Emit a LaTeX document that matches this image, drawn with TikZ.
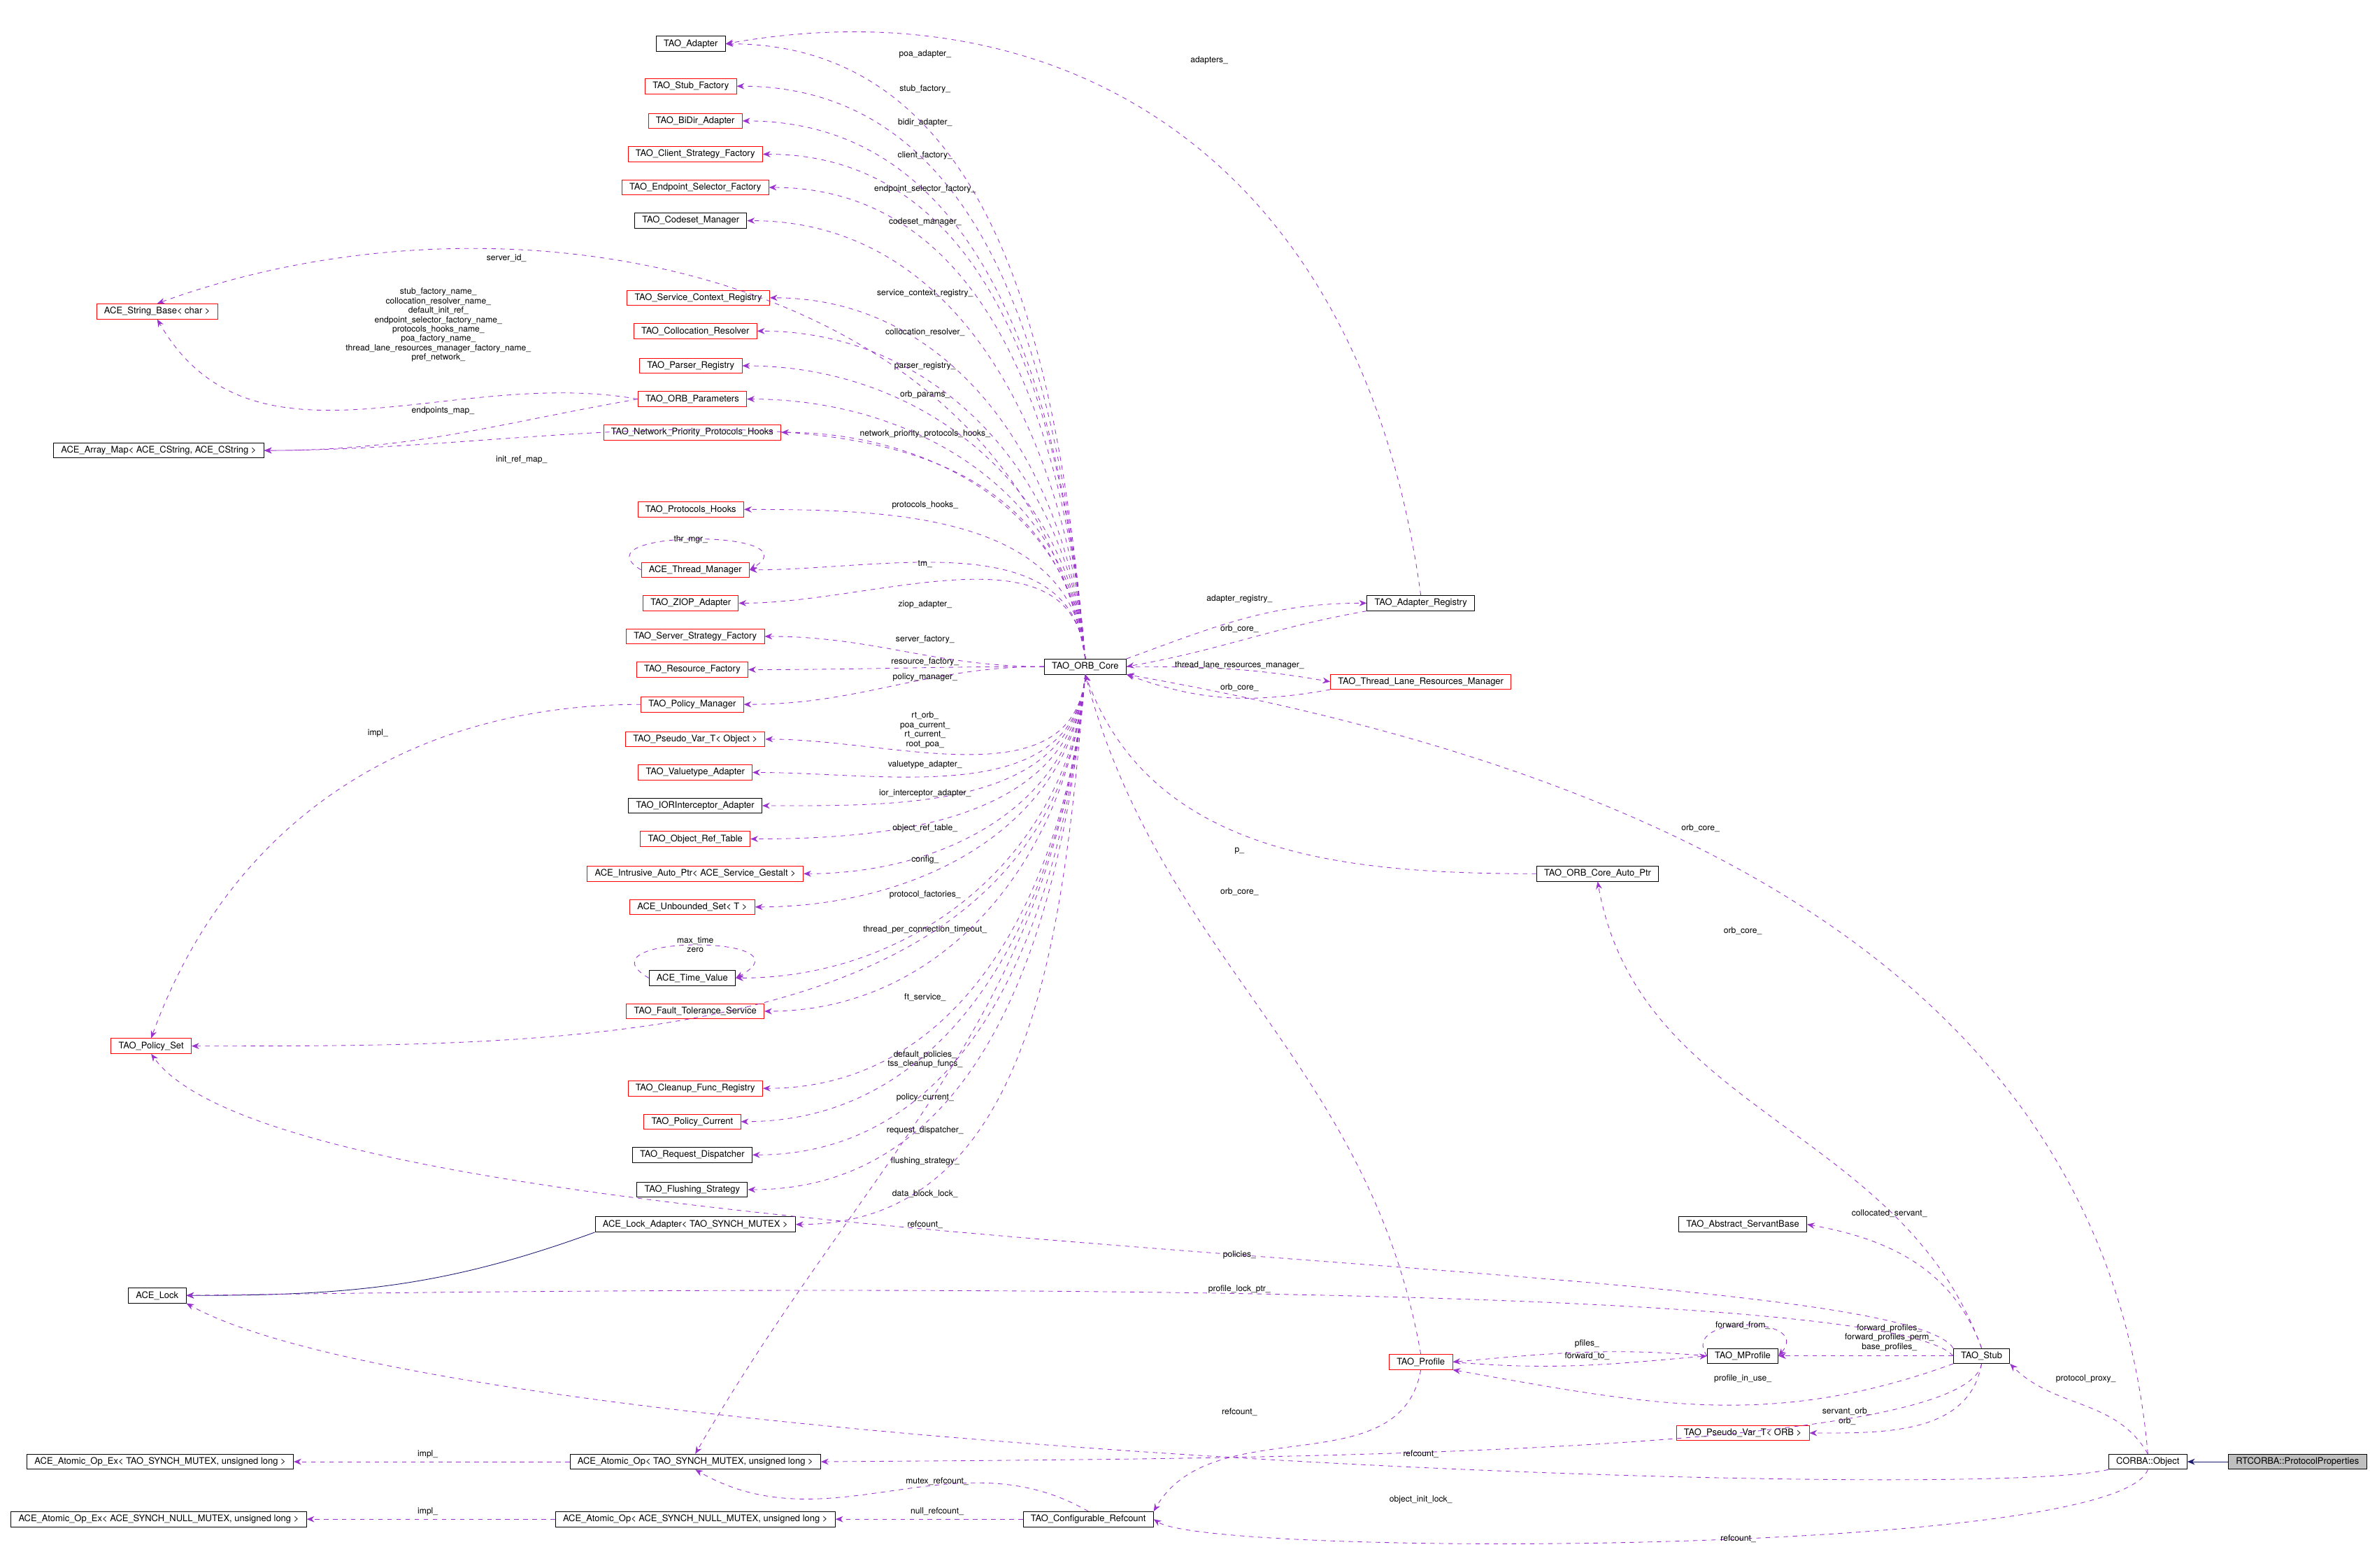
\documentclass[tikz,border=0pt]{standalone}
\usepackage{fontspec}
\setmainfont{TeX Gyre Heros}
\usetikzlibrary{arrows.meta}
\definecolor{edgepurple}{HTML}{9A32CD}
\definecolor{inhnavy}{HTML}{191970}
\catcode`\_=12
\tikzset{
  cls/.style={draw=black, fill=white, font=\fontsize{6}{7}\selectfont, inner xsep=5pt, inner ysep=1pt, minimum height=10pt},
  clsred/.style={cls, draw=red},
  clsgray/.style={cls, fill=black!25},
  rel/.style={draw=edgepurple, dashed, -{Stealth[length=5pt,width=4pt]}},
  inh/.style={draw=inhnavy, -{Stealth[length=5pt,width=4pt]}},
  lbl/.style={font=\fontsize{5.6}{6.2}\selectfont, inner sep=0.5pt, align=center}
}
\begin{document}
\begin{tikzpicture}[x=1pt, y=-1pt]
  \useasboundingbox (0,0) rectangle (1568,1037);
  % left column
  \node[cls] (adapter) at (457,29) {TAO_Adapter};
  \node[clsred] (stubfac) at (457,57) {TAO_Stub_Factory};
  \node[clsred] (bidir) at (460,80) {TAO_BiDir_Adapter};
  \node[clsred] (clientfac) at (460,102) {TAO_Client_Strategy_Factory};
  \node[clsred] (endpointfac) at (460,124) {TAO_Endpoint_Selector_Factory};
  \node[cls] (codeset) at (457,146) {TAO_Codeset_Manager};
  \node[clsred] (svcctx) at (462,197) {TAO_Service_Context_Registry};
  \node[clsred] (colloc) at (460,219) {TAO_Collocation_Resolver};
  \node[clsred] (parser) at (457,242) {TAO_Parser_Registry};
  \node[clsred] (orbparams) at (458,264) {TAO_ORB_Parameters};
  \node[clsred] (netprio) at (458,286) {TAO_Network_Priority_Protocols_Hooks};
  \node[clsred] (protohooks) at (457,337) {TAO_Protocols_Hooks};
  \node[clsred] (thrmgr) at (460,377) {ACE_Thread_Manager};
  \node[clsred] (ziop) at (457,399) {TAO_ZIOP_Adapter};
  \node[clsred] (srvfac) at (460,421) {TAO_Server_Strategy_Factory};
  \node[clsred] (resfac) at (458,443) {TAO_Resource_Factory};
  \node[clsred] (polmgr) at (458,466) {TAO_Policy_Manager};
  \node[clsred] (pvobject) at (460,489) {TAO_Pseudo_Var_T< Object >};
  \node[clsred] (valuetype) at (460,511) {TAO_Valuetype_Adapter};
  \node[cls] (iorint) at (460,533) {TAO_IORInterceptor_Adapter};
  \node[clsred] (objref) at (460,555) {TAO_Object_Ref_Table};
  \node[clsred] (gestalt) at (460,578) {ACE_Intrusive_Auto_Ptr< ACE_Service_Gestalt >};
  \node[clsred] (unbset) at (458,600) {ACE_Unbounded_Set< T >};
  \node[cls] (timeval) at (458,647) {ACE_Time_Value};
  \node[clsred] (ftsvc) at (460,669) {TAO_Fault_Tolerance_Service};
  \node[clsred] (cleanup) at (460,720) {TAO_Cleanup_Func_Registry};
  \node[clsred] (polcur) at (458,742) {TAO_Policy_Current};
  \node[cls] (reqdisp) at (458,764) {TAO_Request_Dispatcher};
  \node[cls] (flush) at (458,787) {TAO_Flushing_Strategy};
  \node[cls] (lockadapter) at (460,810) {ACE_Lock_Adapter< TAO_SYNCH_MUTEX >};
  % far left
  \node[clsred] (strbase) at (104,206) {ACE_String_Base< char >};
  \node[cls] (arraymap) at (105,298) {ACE_Array_Map< ACE_CString, ACE_CString >};
  \node[clsred] (polset) at (100,692) {TAO_Policy_Set};
  \node[cls] (acelock) at (104,857) {ACE_Lock};
  \node[cls] (opexmutex) at (106,967) {ACE_Atomic_Op_Ex< TAO_SYNCH_MUTEX, unsigned long >};
  \node[cls] (opexnull) at (105,1005) {ACE_Atomic_Op_Ex< ACE_SYNCH_NULL_MUTEX, unsigned long >};
  \node[cls] (opmutex) at (460,967) {ACE_Atomic_Op< TAO_SYNCH_MUTEX, unsigned long >};
  \node[cls] (opnull) at (460,1005) {ACE_Atomic_Op< ACE_SYNCH_NULL_MUTEX, unsigned long >};
  \node[cls] (confref) at (720,1005) {TAO_Configurable_Refcount};
  % middle and right
  \node[cls] (core) at (718,441) {TAO_ORB_Core};
  \node[cls] (adreg) at (940,399) {TAO_Adapter_Registry};
  \node[clsred] (lanemgr) at (940,451) {TAO_Thread_Lane_Resources_Manager};
  \node[cls] (autoptr) at (1057,578) {TAO_ORB_Core_Auto_Ptr};
  \node[clsred] (profile) at (940,901) {TAO_Profile};
  \node[cls] (mprofile) at (1153,897) {TAO_MProfile};
  \node[cls] (servant) at (1153,810) {TAO_Abstract_ServantBase};
  \node[clsred] (pvorb) at (1153,948) {TAO_Pseudo_Var_T< ORB >};
  \node[cls] (stub) at (1311,897) {TAO_Stub};
  \node[cls] (object) at (1421,967) {CORBA::Object};
  \node[clsgray] (protoprops) at (1520,967) {RTCORBA::ProtocolProperties};

  % ORB core upwards
  \foreach \n/\l/\ly in {adapter/poa_adapter_/36, stubfac/stub_factory_/59, bidir/bidir_adapter_/81,
      clientfac/client_factory_/103, endpointfac/endpoint_selector_factory_/125, codeset/codeset_manager_/147,
      svcctx/service_context_registry_/194, colloc/collocation_resolver_/220, parser/parser_registry_/242,
      orbparams/orb_params_/261, netprio/network_priority_protocols_hooks_/287, protohooks/protocols_hooks_/334,
      thrmgr/tm_/373, ziop/ziop_adapter_/400} {
    \draw[rel] (core.north) to[out=95,in=0] (\n.east);
    \node[lbl] (l-\n) at (612,\ly) {\l};
  }
  \foreach \n/\l/\ly in {srvfac/server_factory_/423, resfac/resource_factory_/438, polmgr/policy_manager_/448} {
    \draw[rel] (core.west) to[out=180,in=0] (\n.east);
    \node[lbl] (l-\n) at (612,\ly) {\l};
  }
  % ORB core downwards
  \foreach \n/\l/\ly in {valuetype/valuetype_adapter_/506, iorint/ior_interceptor_adapter_/525,
      objref/object_ref_table_/548, gestalt/config_/569, unbset/protocol_factories_/592,
      timeval/thread_per_connection_timeout_/615, ftsvc/ft_service_/660, cleanup/tss_cleanup_funcs_/704,
      polcur/policy_current_/726, reqdisp/request_dispatcher_/748, flush/flushing_strategy_/768,
      lockadapter/data_block_lock_/790} {
    \draw[rel] (core.south) to[out=265,in=0] (\n.east);
    \node[lbl] (l-\n) at (612,\ly) {\l};
  }
  \draw[rel] (core.south) to[out=265,in=0] (pvobject.east);
  \node[lbl] (l-pvobject) at (612,483) {rt_orb_\\poa_current_\\rt_current_\\root_poa_};
  \draw[rel] (core.south) to[out=265,in=0] (polset.east);
  \node[lbl] (l-polset) at (612,698) {default_policies_};
  \draw[rel] (core.south) to[out=265,in=60] (opmutex.north);
  \node[lbl] (l-opmutex) at (612,810) {refcount_};
  \draw[rel] (core.north) to[out=100,in=20] (strbase.north);
  \node[lbl] (l-strbase) at (335,171) {server_id_};
  \draw[rel] (core.north) to[out=98,in=0] (arraymap.east);
  \node[lbl] (l-arraymap) at (345,304) {init_ref_map_};

  % self loops
  \draw[rel] (thrmgr.west) .. controls (380,350) and (540,350) .. (thrmgr.east);
  \node[lbl] (l-thrmgr) at (457,357) {thr_mgr_};
  \draw[rel] (timeval.west) .. controls (380,618) and (540,618) .. (timeval.east);
  \node[lbl] (l-timeval) at (460,625) {max_time\\zero};
  \draw[rel] (mprofile.west) .. controls (1110,870) and (1200,870) .. (mprofile.east);
  \node[lbl] (l-mprofile) at (1153,877) {forward_from_};

  % parameters and policies
  \draw[rel] (orbparams.west) to[out=170,in=-60] (strbase.south);
  \node[lbl] (l-params1) at (290,215) {stub_factory_name_\\collocation_resolver_name_\\default_init_ref_\\endpoint_selector_factory_name_\\protocols_hooks_name_\\poa_factory_name_\\thread_lane_resources_manager_factory_name_\\pref_network_};
  \draw[rel] (orbparams.west) to[out=190,in=0] (arraymap.east);
  \node[lbl] (l-params2) at (293,272) {endpoints_map_};
  \draw[rel] (polmgr.west) to[out=180,in=70] (polset.north);
  \node[lbl] (l-polmgr2) at (250,485) {impl_};
  \draw[inh] (lockadapter.south west) to[out=200,in=0] (acelock.east);

  % adapters and core links
  \draw[rel] (adreg.north) .. controls (900,100) and (700,-10) .. (adapter.east);
  \node[lbl] (l-adreg) at (800,40) {adapters_};
  \draw[rel] (core.north east) to[out=20,in=180] (adreg.west);
  \node[lbl] (l-coreadreg) at (820,396) {adapter_registry_};
  \draw[rel] (adreg.south west) to[out=190,in=10] (core.east);
  \node[lbl] (l-adregcore) at (820,416) {orb_core_};
  \draw[rel] (core.east) to[out=0,in=170] (lanemgr.west);
  \node[lbl] (l-corelane) at (820,440) {thread_lane_resources_manager_};
  \draw[rel] (lanemgr.south west) to[out=190,in=-20] (core.south east);
  \node[lbl] (l-lanecore) at (820,455) {orb_core_};
  \draw[rel] (autoptr.west) to[out=180,in=-70] (core.south);
  \node[lbl] (l-autoptr) at (820,563) {p_};
  \draw[rel] (profile.north) to[out=100,in=-75] (core.south);
  \node[lbl] (l-profilecore) at (820,590) {orb_core_};
  \draw[rel] (object.north) to[out=95,in=-10] (core.south east);
  \node[lbl] (l-objectcore) at (1125,548) {orb_core_};
  \draw[rel] (stub.north) to[out=110,in=-80] (autoptr.south);
  \node[lbl] (l-stubauto) at (1153,616) {orb_core_};

  % stub and profiles
  \draw[rel] (mprofile.west) to[out=175,in=5] (profile.east);
  \node[lbl] (l-pfiles) at (1050,889) {pfiles_};
  \draw[rel] (profile.east) to[out=-5,in=185] (mprofile.west);
  \node[lbl] (l-fwdto) at (1050,897) {forward_to_};
  \draw[rel] (stub.west) -- (mprofile.east);
  \node[lbl] (l-stubmprof) at (1250,885) {forward_profiles_\\forward_profiles_perm_\\base_profiles_};
  \draw[rel] (stub.south west) to[out=200,in=-10] (profile.south east);
  \node[lbl] (l-inuse) at (1153,912) {profile_in_use_};
  \draw[rel] (stub.north) to[out=110,in=-10] (servant.east);
  \node[lbl] (l-servant) at (1250,803) {collocated_servant_};
  \draw[rel] (stub.south) to[out=-100,in=0] (pvorb.east);
  \node[lbl] (l-pvorb) at (1222,937) {servant_orb_\\orb_};
  \draw[rel] (object.north) to[out=120,in=-45] (stub.south east);
  \node[lbl] (l-proxy) at (1380,912) {protocol_proxy_};
  \draw[inh] (protoprops.west) -- (object.east);

  % locks and refcounts
  \draw[rel] (stub.north west) .. controls (1250,826) and (200,836) .. (polset.south);
  \node[lbl] (l-policies) at (820,830) {policies_};
  \draw[rel] (stub.west) .. controls (1250,850) and (600,850) .. (acelock.east);
  \node[lbl] (l-lockptr) at (820,853) {profile_lock_ptr_};
  \draw[rel] (object.south west) .. controls (1300,995) and (300,960) .. (acelock.south east);
  \node[lbl] (l-initlock) at (940,992) {object_init_lock_};
  \draw[rel] (stub.south) .. controls (1300,965) and (800,965) .. (opmutex.east);
  \node[lbl] (l-stubref) at (940,962) {refcount_};
  \draw[rel] (confref.north) to[out=150,in=-30] (opmutex.south);
  \node[lbl] (l-mutexref) at (620,980) {mutex_refcount_};
  \draw[rel] (confref.west) -- (opnull.east);
  \node[lbl] (l-nullref) at (620,1000) {null_refcount_};
  \draw[rel] (profile.south) to[out=-100,in=60] (confref.north east);
  \node[lbl] (l-profref) at (820,934) {refcount_};
  \draw[rel] (object.south) .. controls (1400,1030) and (800,1030) .. (confref.east);
  \node[lbl] (l-objref) at (1150,1018) {refcount_};
  \draw[rel] (opmutex.west) -- (opexmutex.east);
  \node[lbl] (l-impl1) at (283,962) {impl_};
  \draw[rel] (opnull.west) -- (opexnull.east);
  \node[lbl] (l-impl2) at (283,1000) {impl_};
\end{tikzpicture}
\end{document}
